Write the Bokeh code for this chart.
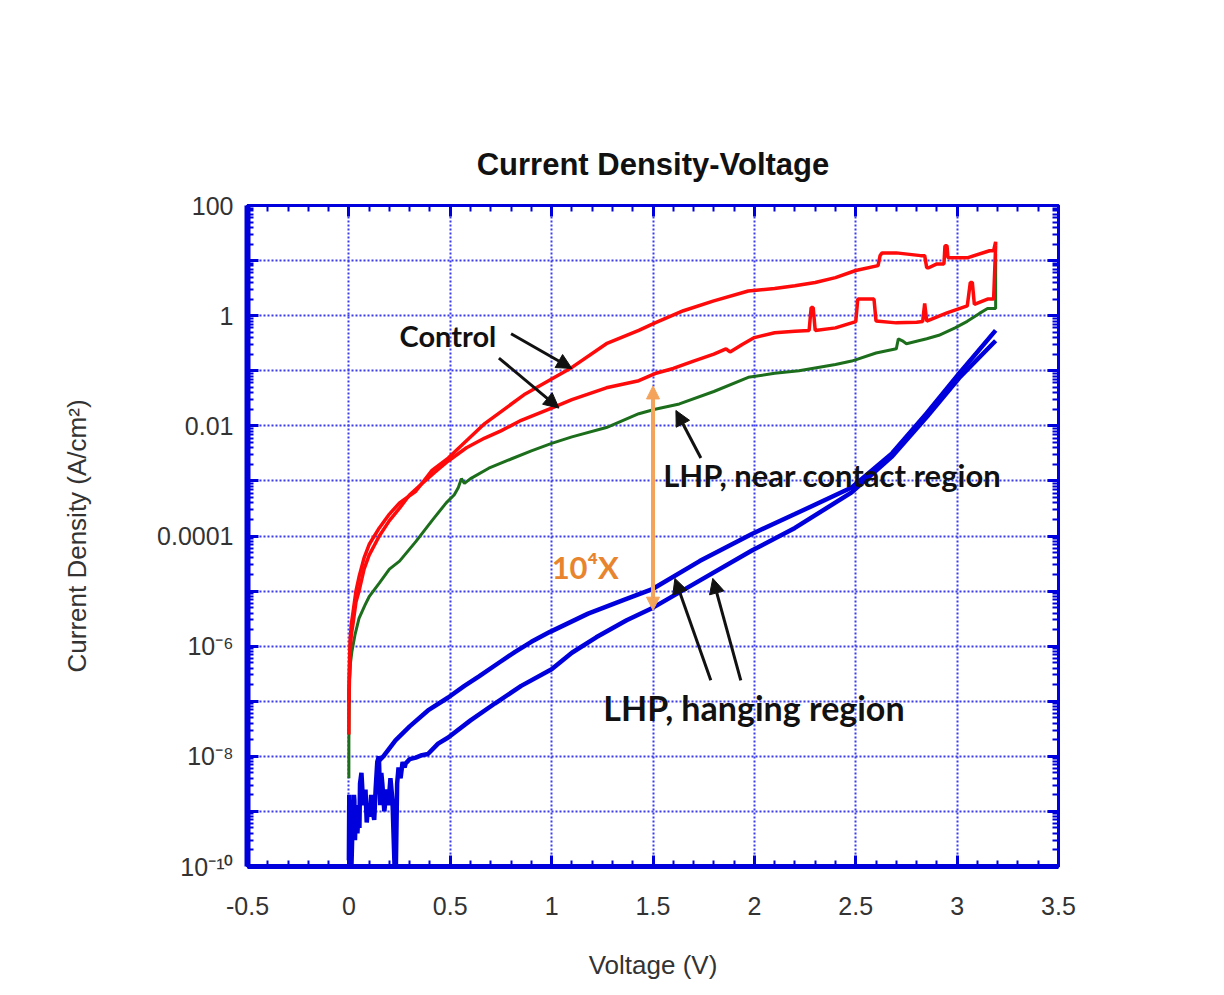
from bokeh.plotting import figure
from bokeh.models import (FixedTicker, CustomJSTickFormatter, LogAxis, LinearAxis,
                          Label, Arrow, NormalHead)
from bokeh.embed import file_html
from bokeh.resources import INLINE

# ---------------- data ----------------
# Control, forward sweep (lower red branch)
red_fwd_v = [0.0, 0.0, 0.003, 0.006, 0.012, 0.02, 0.035, 0.05, 0.075, 0.10, 0.15, 0.20, 0.25,
             0.30, 0.36, 0.42, 0.49, 0.58, 0.67, 0.75, 0.85, 1.00, 1.10, 1.27, 1.43, 1.51,
             1.60, 1.70, 1.80, 1.86, 1.88, 1.94, 2.00, 2.10, 2.20, 2.27, 2.28, 2.29, 2.30,
             2.40, 2.50, 2.51, 2.55, 2.59, 2.60, 2.70, 2.80, 2.83, 2.84, 2.85, 2.95, 3.05,
             3.065, 3.075, 3.085, 3.15, 3.18, 3.19]
red_fwd_j = [2.5e-8, 1.6e-7, 3.2e-7, 7.9e-7, 1.6e-6, 2.5e-6, 6.3e-6, 1e-5, 2.5e-5, 4.5e-5,
             1e-4, 1.9e-4, 3.2e-4, 5.6e-4, 8.9e-4, 1.4e-3, 2.3e-3, 4e-3, 6e-3, 8.1e-3,
             1.26e-2, 2.1e-2, 3e-2, 4.9e-2, 6.6e-2, 8.9e-2, 0.11, 0.15, 0.2, 0.25, 0.22,
             0.3, 0.4, 0.49, 0.52, 0.54, 1.4, 1.4, 0.54, 0.6, 0.78, 2.0, 2.0, 2.0, 0.8,
             0.74, 0.76, 0.78, 1.66, 0.8, 1.12, 1.5, 4.0, 4.0, 1.6, 2.0, 2.0, 18.6]

# Control, reverse sweep (upper red branch)
red_rev_v = [3.19, 3.19, 3.18, 3.16, 3.05, 3.00, 2.955, 2.95, 2.94, 2.935, 2.90, 2.86, 2.85,
             2.84, 2.82, 2.70, 2.63, 2.62, 2.61, 2.50, 2.40, 2.30, 2.20, 2.10, 1.97, 1.80,
             1.65, 1.51, 1.43, 1.27, 1.10, 0.87, 0.67, 0.49, 0.41, 0.33, 0.25, 0.20, 0.15,
             0.10, 0.075, 0.05, 0.035, 0.02, 0.012, 0.006, 0.003, 0.0]
red_rev_j = [18.6, 21.9, 15.1, 15.1, 11.2, 11.2, 11.2, 18.6, 18.6, 8.7, 8.7, 7.4, 7.4,
             12.3, 12.3, 13.8, 13.8, 12.3, 8.1, 6.6, 4.9, 4.0, 3.5, 3.1, 2.8, 1.86,
             1.23, 0.74, 0.54, 0.31, 0.115, 3.8e-2, 1.1e-2, 2.6e-3, 1.55e-3, 6.5e-4,
             4e-4, 2.5e-4, 1.4e-4, 7e-5, 4e-5, 1.8e-5, 1e-5, 4e-6, 2.5e-6, 1.3e-6, 5e-7, 1e-7]

# LHP, near contact region (green)
green_v = [0.0, 0.0, 0.002, 0.004, 0.008, 0.015, 0.03, 0.05, 0.08, 0.10, 0.15, 0.20, 0.25,
           0.33, 0.41, 0.48, 0.52, 0.54, 0.555, 0.57, 0.60, 0.69, 0.80, 0.90, 1.00, 1.10,
           1.27, 1.43, 1.51, 1.63, 1.80, 1.97, 2.10, 2.22, 2.40, 2.48, 2.60, 2.70, 2.71,
           2.73, 2.75, 2.85, 2.91, 2.99, 3.05, 3.11, 3.15, 3.19, 3.19]
green_j = [4e-9, 2e-8, 1e-7, 2.5e-7, 5e-7, 8e-7, 1.6e-6, 3.2e-6, 5.6e-6, 7.9e-6, 1.4e-5,
           2.5e-5, 3.5e-5, 7.9e-5, 1.9e-4, 4e-4, 5.6e-4, 7.6e-4, 1.1e-3, 9e-4, 1.1e-3,
           1.7e-3, 2.5e-3, 3.5e-3, 4.8e-3, 6.3e-3, 9.3e-3, 1.66e-2, 2e-2, 2.5e-2, 4.2e-2,
           7.6e-2, 0.09, 0.1, 0.13, 0.15, 0.21, 0.25, 0.38, 0.35, 0.31, 0.38, 0.44, 0.6,
           0.79, 1.1, 1.35, 1.35, 13.2]

# LHP, hanging region (blue) - lower branch incl. noise floor
blue_lo_v = [0.000, 0.002, 0.004, 0.006, 0.008, 0.010, 0.013, 0.016, 0.018, 0.022, 0.025,
             0.027, 0.030, 0.032, 0.036, 0.040, 0.042, 0.048, 0.052, 0.055, 0.062, 0.068,
             0.075, 0.082, 0.088, 0.095, 0.102, 0.110, 0.118, 0.125, 0.132, 0.140, 0.148,
             0.155, 0.160, 0.165, 0.175, 0.185, 0.195, 0.205, 0.215, 0.225, 0.232, 0.238,
             0.245, 0.255, 0.265, 0.275, 0.28, 0.30, 0.33, 0.36, 0.39, 0.44, 0.49, 0.60,
             0.72, 0.85, 1.00, 1.10, 1.22, 1.37, 1.50, 1.73, 1.99, 2.20, 2.48, 2.68, 2.85,
             3.01, 3.19]
blue_lo_j = [1.3e-10, 2e-9, 1.2e-10, 2.5e-10, 1.6e-9, 1.3e-9, 1.1e-10, 3e-10, 1e-9, 4e-10,
             2e-9, 1.6e-9, 3e-10, 5e-10, 1.3e-9, 6e-10, 4e-10, 1.1e-9, 5e-10, 3.2e-9, 5e-9,
             2e-9, 1.3e-9, 2.5e-9, 6.3e-10, 1.3e-9, 8e-10, 2e-9, 1e-9, 7e-10, 2.5e-9,
             7.9e-9, 1e-8, 1.3e-9, 5e-9, 3.2e-9, 1e-9, 2.5e-9, 1.3e-9, 4e-9, 1.6e-9,
             1.1e-10, 1.1e-10, 3.2e-9, 6.3e-9, 4e-9, 7.9e-9, 6.3e-9, 7.4e-9, 8.9e-9,
             9.5e-9, 1.05e-8, 1.1e-8, 1.7e-8, 2.2e-8, 4.5e-8, 9.1e-8, 1.9e-7, 3.8e-7,
             7.6e-7, 1.45e-6, 2.95e-6, 5e-6, 1.55e-5, 5.5e-5, 1.4e-4, 6.2e-4, 2.8e-3,
             1.45e-2, 7.4e-2, 0.35]

# LHP, hanging region (blue) - upper branch
blue_up_v = [0.140, 0.148, 0.17, 0.20, 0.23, 0.30, 0.39, 0.49, 0.57, 0.64, 0.74, 0.82,
             0.90, 0.99, 1.18, 1.35, 1.50, 1.73, 1.99, 2.20, 2.48, 2.68, 2.85, 3.01, 3.19]
blue_up_j = [7.9e-9, 8.3e-9, 1e-8, 1.4e-8, 1.95e-8, 3.5e-8, 6.8e-8, 1.17e-7, 1.9e-7,
             2.8e-7, 5e-7, 7.9e-7, 1.2e-6, 1.8e-6, 3.9e-6, 6.8e-6, 1.1e-5, 3.5e-5, 1.1e-4,
             2.5e-4, 7.6e-4, 3.2e-3, 1.7e-2, 8.9e-2, 0.54]

x_ticks = [-0.5, 0.0, 0.5, 1.0, 1.5, 2.0, 2.5, 3.0, 3.5]
x_minor = [round(-0.5 + 0.1 * i, 2) for i in range(41)]
y_ticks = [1e-10, 1e-9, 1e-8, 1e-7, 1e-6, 1e-5, 1e-4, 1e-3, 1e-2, 1e-1, 1.0, 10.0, 100.0]
y_minor = [k * d for d in y_ticks[:-1] for k in range(2, 10)]

# ---------------- figure ----------------
BLUE = "#0000dd"
p = figure(frame_width=811, frame_height=661, x_range=(-0.5, 3.5), y_range=(1e-10, 100),
           y_axis_type="log", output_backend="svg", toolbar_location=None,
           min_border_left=247, min_border_right=166, min_border_top=205,
           min_border_bottom=129, background_fill_color="white",
           border_fill_color="white")

p.title.text = "Current Density-Voltage"
p.title.align = "center"
p.title.text_font = "Liberation Sans"
p.title.text_font_size = "31px"
p.title.text_font_style = "bold"
p.title.text_color = "#111111"
p.title.standoff = 47

xt = FixedTicker(ticks=x_ticks, minor_ticks=x_minor)
yt = FixedTicker(ticks=y_ticks, minor_ticks=y_minor)

xfmt = CustomJSTickFormatter(code="return String(Math.round(tick*10)/10);")
yfmt = CustomJSTickFormatter(code="""
const e = Math.round(Math.log10(tick));
const labs = {"2":"100","0":"1","-2":"0.01","-4":"0.0001",
              "-6":"10\u207b\u2076","-8":"10\u207b\u2078","-10":"10\u207b\u00b9\u2070"};
const s = labs[String(e)];
return s === undefined ? "" : s;
""")
blank = CustomJSTickFormatter(code="return '';")

def style_axis(ax, width):
    ax.axis_line_color = BLUE
    ax.axis_line_width = width
    ax.major_tick_line_color = BLUE
    ax.minor_tick_line_color = BLUE
    ax.major_tick_line_width = 3
    ax.minor_tick_line_width = 2
    ax.major_tick_in = 11
    ax.major_tick_out = 0
    ax.minor_tick_in = 6
    ax.minor_tick_out = 0
    ax.major_label_text_font = "Liberation Sans"
    ax.major_label_text_font_size = "25px"
    ax.major_label_text_color = "#333333"
    ax.axis_label_text_font = "Liberation Sans"
    ax.axis_label_text_font_size = "26px"
    ax.axis_label_text_font_style = "normal"
    ax.axis_label_text_color = "#333333"

xa = p.xaxis[0]
xa.ticker = xt
xa.formatter = xfmt
xa.axis_label = "Voltage (V)"
style_axis(xa, 5)
xa.major_label_standoff = 30
xa.axis_label_standoff = 32

ya = p.yaxis[0]
ya.ticker = yt
ya.formatter = yfmt
ya.axis_label = "Current Density (A/cm\u00b2)"
style_axis(ya, 6)
ya.major_label_standoff = 14
ya.axis_label_standoff = 62

top = LinearAxis(ticker=xt, formatter=blank)
style_axis(top, 3)
top.major_label_standoff = 0
p.add_layout(top, "above")

right = LogAxis(ticker=yt, formatter=blank)
style_axis(right, 3)
right.major_label_standoff = 0
p.add_layout(right, "right")

p.outline_line_color = BLUE
p.outline_line_width = 3

for g, t in ((p.xgrid[0], xt), (p.ygrid[0], yt)):
    g.ticker = t
    g.grid_line_color = "#3a3aee"
    g.grid_line_width = 2
    g.grid_line_dash = "2 2"

# ---------------- curves ----------------
p.line(blue_lo_v, blue_lo_j, line_color=BLUE, line_width=4.5)
p.line(blue_up_v, blue_up_j, line_color=BLUE, line_width=4.5)
p.line(green_v, green_j, line_color="#1c6e1c", line_width=3)
p.line(red_fwd_v, red_fwd_j, line_color="#ff0a0a", line_width=3.5)
p.line(red_rev_v, red_rev_j, line_color="#ff0a0a", line_width=3.5)

# ---------------- annotations ----------------
FONT = "Lato"

def label(x, y, text, size, color="#111111"):
    p.add_layout(Label(x=x, y=y, text=text, text_font=FONT, text_font_style="bold",
                       text_font_size=size, text_color=color, text_baseline="middle",
                       text_align="left"))

def arrow(x0, y0, x1, y1, color="#111111", width=3, both=False, size=15):
    kw = dict(x_start=x0, y_start=y0, x_end=x1, y_end=y1, line_color=color,
              line_width=width,
              end=NormalHead(size=size, fill_color=color, line_color=color))
    if both:
        kw["start"] = NormalHead(size=size, fill_color=color, line_color=color)
    p.add_layout(Arrow(**kw))

label(0.25, 0.43, "Control", "29px")
arrow(0.80, 0.47, 1.10, 0.11)
arrow(0.74, 0.17, 1.036, 0.021)

label(1.55, 1.26e-3, "LHP, near contact region", "31px")
arrow(1.736, 2.6e-3, 1.613, 1.9e-2)

label(1.255, 7.8e-8, "LHP, hanging region", "34px")
arrow(1.785, 2.4e-7, 1.608, 1.7e-5)
arrow(1.933, 2.4e-7, 1.795, 1.7e-5)

arrow(1.5, 5.3e-2, 1.5, 4.5e-6, color="#f4a35a", width=4, both=True, size=13)
label(1.0, 2.7e-5, "10\u2074X", "31px", color="#e8842e")

open("out.html", "w", encoding="utf-8").write(file_html(p, INLINE))
